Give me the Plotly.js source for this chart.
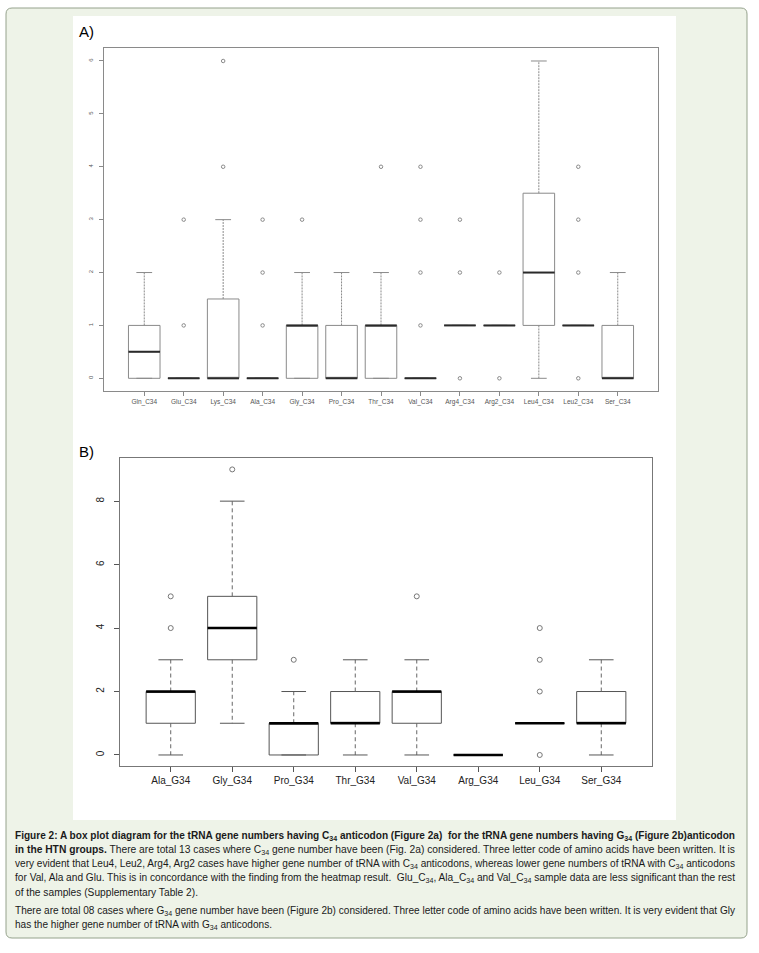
<!DOCTYPE html>
<html>
<head>
<meta charset="utf-8">
<script src="https://cdn.plot.ly/plotly-3.0.1.min.js"></script>
<style>html,body{margin:0;padding:0;background:#fff;}#chart{width:759px;height:953px;}</style>
</head>
<body>
<div id="chart"></div>
<script>
// ---------- Panel A data (C34 anticodon) ----------
const catsA = ['Gln_C34','Glu_C34','Lys_C34','Ala_C34','Gly_C34','Pro_C34','Thr_C34','Val_C34','Arg4_C34','Arg2_C34','Leu4_C34','Leu2_C34','Ser_C34'];
const q1A  = [0, 0, 0,   0, 0, 0, 0, 0, 1, 1, 1,   1, 0];
const medA = [0.5,0, 0,  0, 1, 0, 1, 0, 1, 1, 2,   1, 0];
const q3A  = [1, 0, 1.5, 0, 1, 1, 1, 0, 1, 1, 3.5, 1, 1];
const loA  = [0, 0, 0,   0, 0, 0, 0, 0, 1, 1, 0,   1, 0];
const hiA  = [2, 0, 3,   0, 2, 2, 2, 0, 1, 1, 6,   1, 2];
const outA = [[], [1,3], [4,6], [1,2,3], [3], [], [4], [1,2,3,4], [0,2,3], [0,2], [], [0,2,3,4], []];
const yTicksA = [0,1,2,3,4,5,6];

// ---------- Panel B data (G34 anticodon) ----------
const catsB = ['Ala_G34','Gly_G34','Pro_G34','Thr_G34','Val_G34','Arg_G34','Leu_G34','Ser_G34'];
const q1B  = [1, 3, 0, 1, 1, 0, 1, 1];
const medB = [2, 4, 1, 1, 2, 0, 1, 1];
const q3B  = [2, 5, 1, 2, 2, 0, 1, 2];
const loB  = [0, 1, 0, 0, 0, 0, 1, 0];
const hiB  = [3, 8, 2, 3, 3, 0, 1, 3];
const outB = [[4,5], [9], [3], [], [5], [], [0,2,3,4], []];
const yTicksB = [0,2,4,6,8];

// ---------- helpers ----------
const W = 759, H = 953;
const fx = px => px / W;
const fy = py => 1 - py / H;

function panel(cats, q1, med, q3, lo, hi, outs, xa, ya, st) {
  const pos = cats.map((c, i) => i + 1);
  const tr = [];
  tr.push({type:'box', x:pos, q1:q1, median:med, q3:q3, lowerfence:q1, upperfence:q3,
    width:0.8, whiskerwidth:0, boxpoints:false, fillcolor:'rgba(255,255,255,0)',
    line:{color:st.box, width:st.boxW}, xaxis:xa, yaxis:ya, hoverinfo:'skip'});
  const wx = [], wy = [];
  pos.forEach((p, i) => {
    if (hi[i] > q3[i]) { wx.push(p, p, null); wy.push(q3[i], hi[i], null); }
    if (lo[i] < q1[i]) { wx.push(p, p, null); wy.push(q1[i], lo[i], null); }
  });
  tr.push({type:'scatter', mode:'lines', x:wx, y:wy, line:{color:st.whisk, width:st.whiskW, dash:st.dash},
    xaxis:xa, yaxis:ya, hoverinfo:'skip'});
  const cx = [], cy = [];
  pos.forEach((p, i) => {
    [lo[i], hi[i]].forEach(v => { cx.push(p - 0.2, p + 0.2, null); cy.push(v, v, null); });
  });
  tr.push({type:'scatter', mode:'lines', x:cx, y:cy, line:{color:st.box, width:st.boxW},
    xaxis:xa, yaxis:ya, hoverinfo:'skip'});
  const mx = [], my = [];
  pos.forEach((p, i) => { mx.push(p - 0.4, p + 0.4, null); my.push(med[i], med[i], null); });
  tr.push({type:'scatter', mode:'lines', x:mx, y:my, line:{color:st.med, width:st.medW},
    xaxis:xa, yaxis:ya, hoverinfo:'skip'});
  const ox = [], oy = [];
  pos.forEach((p, i) => outs[i].forEach(v => { ox.push(p); oy.push(v); }));
  tr.push({type:'scatter', mode:'markers', x:ox, y:oy,
    marker:{symbol:'circle-open', size:st.outS, color:st.out, line:{width:1, color:st.out}},
    xaxis:xa, yaxis:ya, hoverinfo:'skip'});
  return tr;
}

const stA = {box:'#8a8a8a', boxW:1, whisk:'#8a8a8a', whiskW:1, dash:'2px,1px', med:'#2a2a2a', medW:2, outS:3.5, out:'#8a8a8a'};
const stB = {box:'#555555', boxW:1, whisk:'#666666', whiskW:1, dash:'4px,3px', med:'#000000', medW:2.5, outS:5, out:'#777777'};

const data = [].concat(
  panel(catsA, q1A, medA, q3A, loA, hiA, outA, 'x', 'y', stA),
  panel(catsB, q1B, medB, q3B, loB, hiB, outB, 'x2', 'y2', stB)
);

const baseAxis = {showgrid:false, zeroline:false, showline:true, mirror:true, ticks:'outside', fixedrange:true};

function roundRect(x0, y0, x1, y1, r) {
  const rx = r / W, ry = r / H;
  const X0 = fx(x0), X1 = fx(x1), Y0 = fy(y0), Y1 = fy(y1);
  return `M ${X0+rx},${Y0} L ${X1-rx},${Y0} Q ${X1},${Y0} ${X1},${Y0-ry} L ${X1},${Y1+ry} Q ${X1},${Y1} ${X1-rx},${Y1} L ${X0+rx},${Y1} Q ${X0},${Y1} ${X0},${Y1+ry} L ${X0},${Y0-ry} Q ${X0},${Y0} ${X0+rx},${Y0} Z`;
}

const capFont = {family:'Liberation Sans, Arial, sans-serif', size:10, color:'#1a1a1a'};
// [text, y centre in px, rendered width in px]
const capLines = [
  ['<b>Figure 2: A box plot diagram for the tRNA gene numbers having C<sub>34</sub> anticodon (Figure 2a)  for the tRNA gene numbers having G<sub>34</sub> (Figure 2b)anticodon</b>', 836, 720],
  ['<b>in the HTN groups.</b> There are total 13 cases where C<sub>34</sub> gene number have been (Fig. 2a) considered. Three letter code of amino acids have been written. It is', 850, 720],
  ['very evident that Leu4, Leu2, Arg4, Arg2 cases have higher gene number of tRNA with C<sub>34</sub> anticodons, whereas lower gene numbers of tRNA with C<sub>34</sub> anticodons', 864, 720],
  ['for Val, Ala and Glu. This is in concordance with the finding from the heatmap result.  Glu_C<sub>34</sub>, Ala_C<sub>34</sub> and Val_C<sub>34</sub> sample data are less significant than the rest', 878, 720],
  ['of the samples (Supplementary Table 2).', 892, 183],
  ['There are total 08 cases where G<sub>34</sub> gene number have been (Figure 2b) considered. Three letter code of amino acids have been written. It is very evident that Gly', 911, 720],
  ['has the higher gene number of tRNA with G<sub>34</sub> anticodons.', 925, 257]
];

const annotations = capLines.map(l => ({text:l[0], xref:'paper', yref:'paper', x:fx(15), y:fy(l[1]),
  xanchor:'left', yanchor:'middle', showarrow:false, align:'left', font:capFont}));
annotations.push({text:'A)', xref:'paper', yref:'paper', x:fx(77), y:fy(32), xanchor:'left', yanchor:'middle',
  showarrow:false, font:{family:'Liberation Sans, Arial, sans-serif', size:15, color:'#000'}});
annotations.push({text:'B)', xref:'paper', yref:'paper', x:fx(77), y:fy(452), xanchor:'left', yanchor:'middle',
  showarrow:false, font:{family:'Liberation Sans, Arial, sans-serif', size:15, color:'#000'}});

const layout = {
  width:W, height:H, margin:{l:0, r:0, t:0, b:0},
  paper_bgcolor:'#ffffff', plot_bgcolor:'rgba(0,0,0,0)', showlegend:false,
  xaxis: Object.assign({}, baseAxis, {domain:[fx(104), fx(658)], range:[-0.02, 14.02], anchor:'y',
    tickmode:'array', tickvals:catsA.map((c,i)=>i+1), ticktext:catsA, ticklen:4, tickcolor:'#8a8a8a',
    linecolor:'#8a8a8a', tickfont:{family:'Liberation Sans, Arial, sans-serif', size:6.5, color:'#555'}}),
  yaxis: Object.assign({}, baseAxis, {domain:[fy(391), fy(48.3)], range:[-0.24, 6.24], anchor:'x',
    tickmode:'array', tickvals:yTicksA, ticktext:yTicksA.map(String), ticklen:4, tickangle:-90, ticklabelstandoff:4,
    tickcolor:'#8a8a8a', linecolor:'#8a8a8a', tickfont:{family:'Liberation Sans, Arial, sans-serif', size:6, color:'#555'}}),
  xaxis2: Object.assign({}, baseAxis, {domain:[fx(120.3), fx(651.7)], range:[0.18, 8.82], anchor:'y2',
    tickmode:'array', tickvals:catsB.map((c,i)=>i+1), ticktext:catsB, ticklen:5, tickcolor:'#555',
    linecolor:'#777', tickfont:{family:'Liberation Sans, Arial, sans-serif', size:10, color:'#222'}}),
  yaxis2: Object.assign({}, baseAxis, {domain:[fy(766.4), fy(458)], range:[-0.36, 9.36], anchor:'x2',
    tickmode:'array', tickvals:yTicksB, ticktext:yTicksB.map(String), ticklen:5, tickangle:-90, ticklabelstandoff:6,
    tickcolor:'#555', linecolor:'#777', tickfont:{family:'Liberation Sans, Arial, sans-serif', size:10, color:'#222'}}),
  shapes: [
    {type:'path', xref:'paper', yref:'paper', path:roundRect(6, 8, 747, 938, 6), fillcolor:'#eef3e8',
      line:{color:'#95a28c', width:1}, layer:'below'},
    {type:'rect', xref:'paper', yref:'paper', x0:fx(73), x1:fx(676), y0:fy(820), y1:fy(16), fillcolor:'#ffffff',
      line:{width:0}, layer:'below'}
  ],
  annotations: annotations
};

Plotly.newPlot('chart', data, layout, {staticPlot:true, displayModeBar:false}).then(gd => {
  const texts = gd.querySelectorAll('.annotation-text');
  const svgLeft = gd.getBoundingClientRect().left;
  capLines.forEach((l, i) => {
    const t = texts[i];
    if (!t) return;
    t.setAttribute('textLength', l[2]);
    t.setAttribute('lengthAdjust', 'spacingAndGlyphs');
    const r = t.getBoundingClientRect();
    const dx = 15 - (r.left - svgLeft);
    const x0 = parseFloat(t.getAttribute('x') || '0');
    t.setAttribute('x', x0 + dx);
  });
});
</script>
</body>
</html>
